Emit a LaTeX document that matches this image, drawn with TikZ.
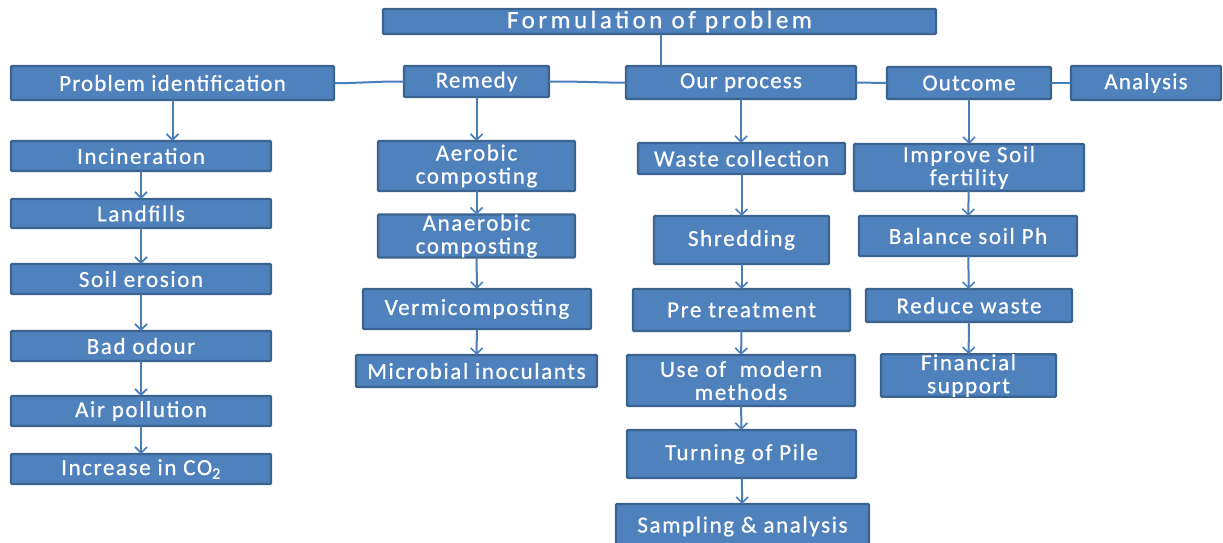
\documentclass[tikz,border=0pt]{standalone}
\usepackage{fontspec}
\setmainfont{Carlito}[FakeBold=0.6]
\usetikzlibrary{arrows.meta,calc}
\definecolor{boxfill}{HTML}{4F81BD}
\definecolor{boxline}{HTML}{3A6390}
\definecolor{conn}{HTML}{4A7EBB}
\newcommand\mybodyfont{\fontsize{23}{23}\selectfont\addfontfeature{LetterSpace=7}}
\newcommand\myheadfont{\fontsize{23}{23}\selectfont\addfontfeature{LetterSpace=5}}
\newcommand\mybigfont{\fontsize{25}{26}\selectfont\addfontfeature{LetterSpace=14}}
\tikzset{
  box/.style={draw=boxline, fill=boxfill, line width=2.2pt, text=white,
    inner sep=0pt, outer sep=0pt, align=center, font=\mybodyfont, rounded corners=1pt},
  head/.style={font=\myheadfont},
  conline/.style={draw=conn, line width=2pt},
  arr/.style={conline, -{Straight Barb[length=6pt,width=12pt,line width=1.6pt]}},
}
\newcommand\bx[7][]{\node[box,#1,minimum width={#5-#3-2},minimum height={#6-#4-2}] (#2) at ({(#3+#5)/2},{(#4+#6)/2}) {#7};}
\begin{document}
\begin{tikzpicture}[x=1pt,y=-1pt]
\fill[white] (0,0) rectangle (1223,542);
\clip (0,0) rectangle (1223,542);
% header
\bx[font=\mybigfont]{form}{382}{8}{937}{35}{Formulation of problem}
\bx[head]{pi}{10}{65}{335}{101}{Problem identification}
\bx[head]{rem}{403}{65}{550}{98}{Remedy}
\bx[head]{proc}{625}{65}{857}{100}{Our process}
\bx[head]{out}{886}{66}{1052}{100}{Outcome}
\bx[head]{ana}{1070}{65}{1222}{101}{Analysis}
% left column
\bx{inc}{10}{140}{272}{172}{Incineration}
\bx{land}{10}{198}{272}{229}{Landfills}
\bx{soil}{10}{263}{272}{295}{Soil erosion}
\bx{odour}{10}{330}{272}{362}{Bad odour}
\bx{air}{10}{395}{272}{427}{Air pollution}
\bx{co}{10}{453}{272}{485}{Increase in CO\textsubscript{2}}
% remedy column
\bx{aer}{377}{140}{576}{192}{Aerobic\\composting}
\bx{anaer}{377}{215}{576}{257}{Anaerobic\\composting}
\bx{verm}{362}{288}{592}{330}{Vermicomposting}
\bx{micro}{355}{354}{598}{388}{Microbial inoculants}
% process column
\bx{wc}{637}{142}{846}{175}{Waste collection}
\bx{shred}{653}{215}{830}{265}{Shredding}
\bx{pre}{632}{288}{851}{332}{Pre treatment}
\bx{mod}{626}{354}{856}{407}{Use of\ \ modern\\methods}
\bx{turn}{626}{429}{857}{479}{Turning of Pile}
\bx{samp}{615}{503}{870}{550}{Sampling \& analysis}
% outcome column
\bx{isf}{853}{143}{1085}{192}{Improve Soil\\fertility}
\bx{bsp}{858}{215}{1078}{257}{Balance soil Ph}
\bx{rw}{865}{288}{1073}{323}{Reduce waste}
\bx{fs}{880}{354}{1057}{397}{Financial\\support}
% header connectors
\coordinate (ft) at ($(proc.north west)!0.15!(proc.north east)$);
\draw[conline] (ft) -- (ft |- form.south);
\draw[conline] (pi.east) -- ++(15,0) -- ([xshift=-15pt]rem.west) -- (rem.west);
\draw[conline] (rem.east) -- ++(18,0) -- ([xshift=-17pt]proc.west) -- (proc.west);
\draw[conline] (proc.east) -- (out.west);
\draw[conline] (out.east) -- (ana.west);
% arrows
\draw[arr] (pi.south) -- (pi.south |- inc.north);
\draw[arr] (inc) -- (land);
\draw[arr] (land) -- (soil);
\draw[arr] (soil) -- (odour);
\draw[arr] (odour) -- (air);
\draw[arr] (air) -- (co);
\draw[arr] (rem.south) -- (rem.south |- aer.north);
\draw[arr] (aer) -- (anaer);
\draw[arr] (anaer) -- (verm);
\draw[arr] (verm) -- (micro);
\draw[arr] (proc.south) -- (proc.south |- wc.north);
\draw[arr] (wc) -- (shred);
\draw[arr] (shred) -- (pre);
\draw[arr] (pre) -- (mod);
\draw[arr] (mod) -- (turn);
\draw[arr] (turn) -- (samp);
\draw[arr] (out.south) -- (out.south |- isf.north);
\draw[arr] (isf) -- (bsp);
\draw[arr] (bsp) -- (rw);
\draw[arr] (rw) -- (fs);
\end{tikzpicture}
\end{document}
